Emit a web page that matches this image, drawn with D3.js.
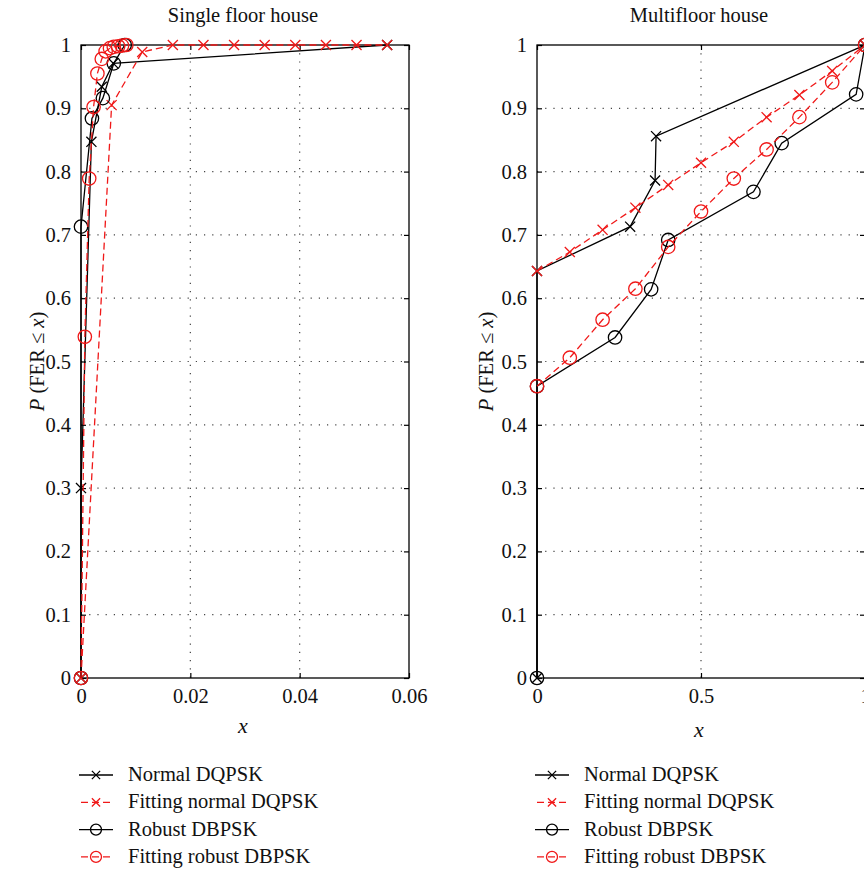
<!DOCTYPE html>
<html>
<head>
<meta charset="utf-8">
<script src="https://cdn.jsdelivr.net/npm/d3@7"></script>
<style>
  body { margin: 0; background: #fff; }
  text { font-family: "Liberation Serif", "Times New Roman", serif; fill: #111; }
</style>
</head>
<body>
<svg id="chart" width="864" height="871"></svg>
<script>
// single floor house
var sfNormalX = [0, 0, 0.0019, 0.0038, 0.0059, 0.056];
var sfNormalY = [0, 0.30, 0.847, 0.934, 0.971, 1];
var sfFitNormalX = [0, 0.0056, 0.0112, 0.0168, 0.0224, 0.028, 0.0336, 0.0392, 0.0448, 0.0504, 0.056];
var sfFitNormalY = [0, 0.905, 0.989, 1, 1, 1, 1, 1, 1, 1, 1];
var sfRobustX = [0, 0, 0.002, 0.004, 0.006, 0.008];
var sfRobustY = [0, 0.713, 0.884, 0.916, 0.971, 1];
var sfFitRobustX = [0, 0.0007, 0.0015, 0.0023, 0.003, 0.0038, 0.0045, 0.0053, 0.006, 0.0068, 0.0075, 0.0083];
var sfFitRobustY = [0, 0.539, 0.789, 0.902, 0.955, 0.978, 0.99, 0.995, 0.997, 0.998, 0.999, 1];

// multifloor house
var mfNormalX = [0, 0, 0.284, 0.36, 0.363, 1];
var mfNormalY = [0, 0.643, 0.713, 0.786, 0.856, 1];
var mfFitNormalX = [0, 0.1, 0.2, 0.3, 0.4, 0.5, 0.6, 0.7, 0.8, 0.9, 1];
var mfFitNormalY = [0.643, 0.673, 0.708, 0.743, 0.779, 0.814, 0.847, 0.886, 0.921, 0.959, 1];
var mfRobustX = [0, 0, 0.238, 0.348, 0.4, 0.66, 0.746, 0.973, 1];
var mfRobustY = [0, 0.461, 0.538, 0.614, 0.692, 0.768, 0.845, 0.922, 1];
var mfFitRobustX = [0, 0.1, 0.2, 0.3, 0.4, 0.5, 0.6, 0.7, 0.8, 0.9, 1];
var mfFitRobustY = [0.461, 0.506, 0.566, 0.615, 0.681, 0.737, 0.789, 0.835, 0.886, 0.941, 1];

var yTicks = [0, 0.1, 0.2, 0.3, 0.4, 0.5, 0.6, 0.7, 0.8, 0.9, 1];
var names = ["Normal DQPSK", "Fitting normal DQPSK", "Robust DBPSK", "Fitting robust DBPSK"];

var styles = [
  {color: "#000", dash: null, marker: "x"},
  {color: "#f01818", dash: "7,4", marker: "x"},
  {color: "#000", dash: null, marker: "o"},
  {color: "#f01818", dash: "7,4", marker: "o"}
];

function zip(xs, ys) { return xs.map(function(v, i) { return [v, ys[i]]; }); }

var panels = [
  {title: "Single floor house", left: 81, xMax: 0.06, xTicks: [0, 0.02, 0.04, 0.06],
   yLabelX: 37, xLabelY: 733,
   series: [zip(sfNormalX, sfNormalY), zip(sfFitNormalX, sfFitNormalY),
            zip(sfRobustX, sfRobustY), zip(sfFitRobustX, sfFitRobustY)]},
  {title: "Multifloor house", left: 537, xMax: 1, xTicks: [0, 0.5, 1],
   yLabelX: 486, xLabelY: 737,
   series: [zip(mfNormalX, mfNormalY), zip(mfFitNormalX, mfFitNormalY),
            zip(mfRobustX, mfRobustY), zip(mfFitRobustX, mfFitRobustY)]}
];

var plotTop = 45, plotBottom = 678, w = 328, fs = 20.5;
var svg = d3.select("#chart");

function drawMarker(g, kind, cx, cy, color, r) {
  if (kind === "x") {
    var s = r * 0.75;
    g.append("path")
      .attr("d", "M" + (cx - s) + "," + (cy - s) + "L" + (cx + s) + "," + (cy + s) +
                 "M" + (cx - s) + "," + (cy + s) + "L" + (cx + s) + "," + (cy - s))
      .attr("stroke", color).attr("stroke-width", 1.3).attr("fill", "none");
  } else {
    g.append("circle").attr("cx", cx).attr("cy", cy).attr("r", r)
      .attr("stroke", color).attr("stroke-width", 1.3).attr("fill", "none");
  }
}

panels.forEach(function(p) {
  var x = d3.scaleLinear().domain([0, p.xMax]).range([p.left, p.left + w]);
  var y = d3.scaleLinear().domain([0, 1]).range([plotBottom, plotTop]);
  var g = svg.append("g");

  // dotted grid
  g.append("g").selectAll("line").data(yTicks.slice(1, -1)).join("line")
    .attr("x1", p.left).attr("x2", p.left + w)
    .attr("y1", function(d) { return y(d); }).attr("y2", function(d) { return y(d); })
    .attr("stroke", "#444").attr("stroke-width", 1.2).attr("stroke-dasharray", "1.2,7");
  g.append("g").selectAll("line").data(p.xTicks.slice(1, -1)).join("line")
    .attr("y1", plotTop).attr("y2", plotBottom)
    .attr("x1", function(d) { return x(d); }).attr("x2", function(d) { return x(d); })
    .attr("stroke", "#444").attr("stroke-width", 1.2).attr("stroke-dasharray", "1.2,7");

  // axes with inside ticks on every side
  var fmt = function(d) { return d3.format("~g")(d); };
  var ax = [
    g.append("g").attr("transform", "translate(0," + plotBottom + ")")
      .call(d3.axisBottom(x).tickValues(p.xTicks).tickFormat(fmt).tickSize(-5).tickPadding(10)),
    g.append("g").attr("transform", "translate(0," + plotTop + ")")
      .call(d3.axisTop(x).tickValues(p.xTicks).tickFormat("").tickSize(-5)),
    g.append("g").attr("transform", "translate(" + p.left + ",0)")
      .call(d3.axisLeft(y).tickValues(yTicks).tickFormat(fmt).tickSize(-5).tickPadding(10)),
    g.append("g").attr("transform", "translate(" + (p.left + w) + ",0)")
      .call(d3.axisRight(y).tickValues(yTicks).tickFormat("").tickSize(-5))
  ];
  ax.forEach(function(a) {
    a.select(".domain").remove();
    a.selectAll(".tick line").attr("stroke", "#000").attr("stroke-width", 1.2);
    a.selectAll("text").attr("font-size", fs).attr("font-family", "Liberation Serif").attr("fill", "#111");
  });

  // frame
  g.append("rect").attr("x", p.left).attr("y", plotTop).attr("width", w).attr("height", plotBottom - plotTop)
    .attr("fill", "none").attr("stroke", "#000").attr("stroke-width", 1.3);

  // series
  var line = d3.line().x(function(d) { return x(d[0]); }).y(function(d) { return y(d[1]); });
  p.series.forEach(function(data, i) {
    var st = styles[i];
    g.append("path").datum(data).attr("d", line)
      .attr("fill", "none").attr("stroke", st.color).attr("stroke-width", 1.3)
      .attr("stroke-dasharray", st.dash);
    var mg = g.append("g");
    data.forEach(function(d) { drawMarker(mg, st.marker, x(d[0]), y(d[1]), st.color, 6.7); });
  });

  // titles and labels
  g.append("text").attr("x", p.left + w / 2 - 2).attr("y", 22).attr("text-anchor", "middle")
    .attr("font-size", fs).text(p.title);
  g.append("text").attr("x", p.left + w / 2 - 2).attr("y", p.xLabelY).attr("text-anchor", "middle")
    .attr("font-size", 22).attr("font-style", "italic").text("x");
  var yl = g.append("text").attr("transform", "translate(" + p.yLabelX + "," + ((plotTop + plotBottom) / 2) + ") rotate(-90)")
    .attr("text-anchor", "middle").attr("dy", "0.35em").attr("font-size", fs);
  yl.append("tspan").attr("font-style", "italic").text("P");
  yl.append("tspan").text(" (FER \u2264 ");
  yl.append("tspan").attr("font-style", "italic").text("x");
  yl.append("tspan").text(")");

  // legend
  var lg = g.append("g").attr("transform", "translate(" + (p.left - 2) + ",775)");
  names.forEach(function(n, i) {
    var st = styles[i];
    var row = lg.append("g").attr("transform", "translate(0," + (i * 27.3) + ")");
    row.append("line").attr("x1", 0).attr("x2", 34).attr("y1", 0).attr("y2", 0)
      .attr("stroke", st.color).attr("stroke-width", 1.3).attr("stroke-dasharray", st.dash ? "7,4" : null)
      .attr("stroke-dashoffset", st.dash ? -2 : null);
    drawMarker(row, st.marker, 17, 0, st.color, 5.5);
    row.append("text").attr("x", 49).attr("y", 6).attr("font-size", fs).text(n);
  });
});
</script>
</body>
</html>
